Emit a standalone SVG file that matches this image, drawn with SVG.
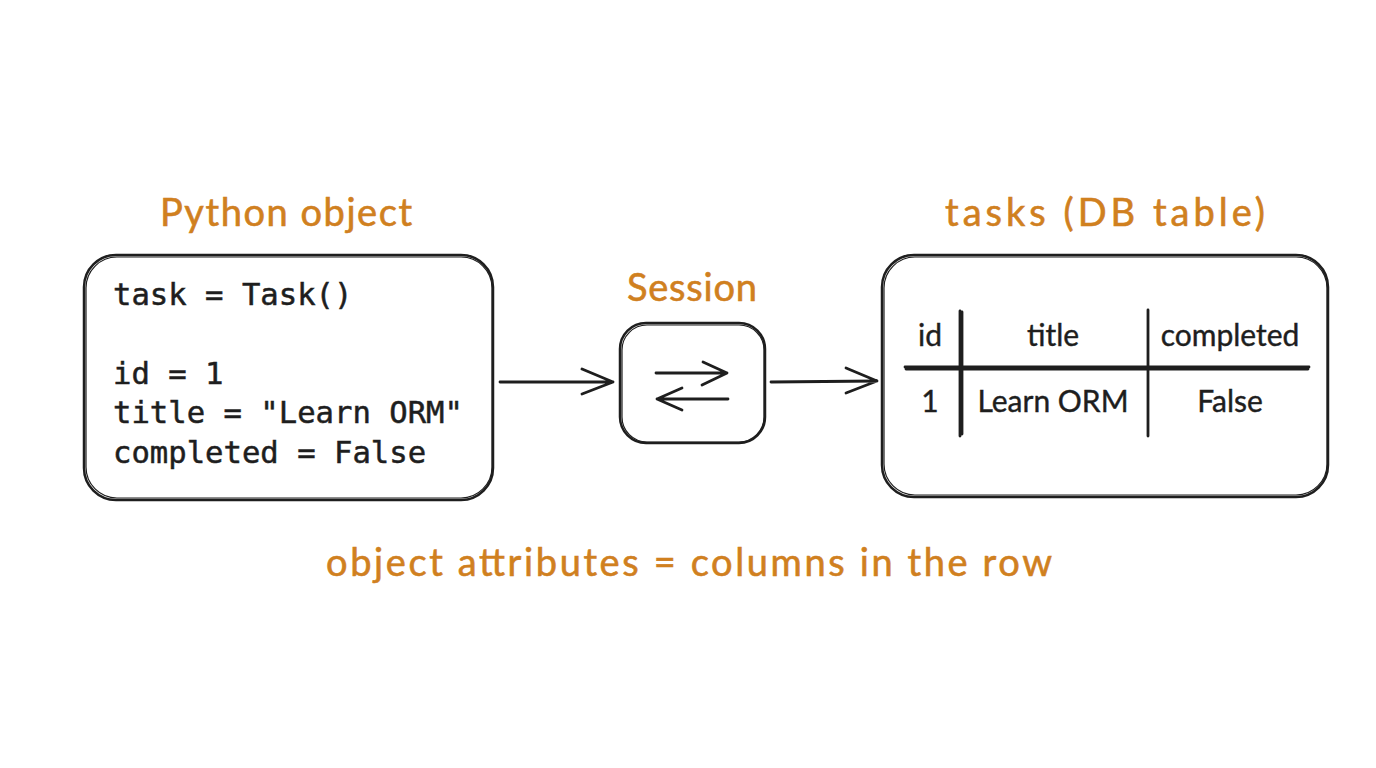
<svg xmlns="http://www.w3.org/2000/svg" width="1376" height="768" viewBox="0 0 1376 768">
<style>
.box{fill:none;stroke:#1e1e1e;stroke-width:2.5}
.box2{fill:none;stroke:#1e1e1e;stroke-width:1.2}
.ln{fill:none;stroke:#1e1e1e;stroke-width:2.8;stroke-linecap:round;stroke-linejoin:round}
.lbl{font-family:"Lato","Liberation Sans",sans-serif;font-size:38px;fill:#d0801f;stroke:#d0801f;stroke-width:0.6;text-anchor:middle}
.code{font-family:"DejaVu Sans Mono","Liberation Mono",monospace;font-size:30.6px;fill:#1e1e1e;stroke:#1e1e1e;stroke-width:0.5}
.cell{font-family:"Lato","Liberation Sans",sans-serif;font-size:30px;fill:#1e1e1e;stroke:#1e1e1e;stroke-width:0.4;text-anchor:middle}
</style>
<rect width="1376" height="768" fill="#ffffff"/>
<g id="python-object">
<rect class="box" x="84" y="255" width="409" height="245" rx="32"/>
<rect class="box2" x="86" y="257" width="406" height="241" rx="31"/>
<text class="lbl" x="286" y="226" textLength="252" lengthAdjust="spacing">Python object</text>
<text class="code" x="113" y="305">task = Task()</text>
<text class="code" x="113" y="384">id = 1</text>
<text class="code" x="113" y="423">title = "Learn ORM"</text>
<text class="code" x="113" y="463">completed = False</text>
</g>
<g id="session">
<rect class="box" x="620" y="323" width="145" height="120" rx="26"/>
<rect class="box2" x="622" y="325" width="142" height="117" rx="25"/>
<text class="lbl" x="692" y="301" textLength="130" lengthAdjust="spacing">Session</text>
<path class="ln" d="M656 373 L727 373 M703 362 L727 373 L702 385"/>
<path class="ln" d="M728 399 L657 399 M682 388 L657 399 L682 410"/>
</g>
<g id="tasks-table">
<rect class="box" x="882" y="255" width="446" height="242" rx="32"/>
<rect class="box2" x="884" y="257" width="443" height="238" rx="31"/>
<text class="lbl" x="1105" y="226" textLength="320" lengthAdjust="spacing">tasks (DB table)</text>
<path class="ln" d="M960 311 L960 436 M962 312 L962 434"/>
<path class="ln" d="M1148 310 L1148 436"/>
<path class="ln" d="M905 367 L1309 367 M906 369 L1308 369"/>
<text class="cell" x="930" y="346">id</text>
<text class="cell" x="1053" y="346">title</text>
<text class="cell" x="1230" y="346">completed</text>
<text class="cell" x="930" y="412">1</text>
<text class="cell" x="1053" y="412">Learn ORM</text>
<text class="cell" x="1230" y="412">False</text>
</g>
<g id="connectors">
<path class="ln" d="M500 382 L613 382 M582 369 L613 382 L582 394"/>
<path class="ln" d="M771 382 L877 381 M846 368 L877 381 L846 393"/>
</g>
<g id="caption">
<text class="lbl" x="689" y="576" textLength="726" lengthAdjust="spacing">object attributes = columns in the row</text>
</g>
</svg>
